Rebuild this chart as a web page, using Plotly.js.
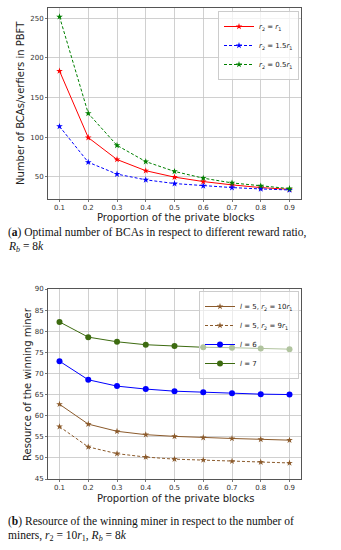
<!DOCTYPE html>
<html>
<head>
<meta charset="utf-8">
<script src="https://cdn.plot.ly/plotly-3.0.1.min.js"></script>
<style>html,body{margin:0;padding:0;background:#fff;}#chart{width:341px;height:550px;}</style>
</head>
<body>
<div id="chart"></div>
<script>
// Data
const proportions = [0.1, 0.2, 0.3, 0.4, 0.5, 0.6, 0.7, 0.8, 0.9];
// (a) Number of BCAs/verifiers
const bcaR1 = [183.5, 99.5, 71.8, 57.7, 49.6, 44.0, 39.8, 36.4, 34.2];
const bca15R1 = [113.6, 68.4, 53.4, 46.2, 41.5, 38.5, 36.4, 34.7, 33.4];
const bca05R1 = [252.0, 130.0, 89.7, 69.2, 56.8, 48.3, 42.3, 38.5, 35.1];
// (b) Resource of the winning miner
const resL5r10 = [62.7, 58.0, 56.3, 55.5, 55.1, 54.8, 54.6, 54.4, 54.2];
const resL5r9 = [57.4, 52.6, 51.0, 50.2, 49.7, 49.5, 49.2, 49.0, 48.8];
const resL6 = [72.9, 68.5, 67.0, 66.3, 65.8, 65.55, 65.3, 65.1, 65.0];
const resL7 = [82.2, 78.6, 77.5, 76.8, 76.5, 76.2, 76.1, 75.9, 75.75];
const xTicks = [0.1, 0.2, 0.3, 0.4, 0.5, 0.6, 0.7, 0.8, 0.9];
const yTicksA = [50, 100, 150, 200, 250];
const yTicksB = [45, 50, 55, 60, 65, 70, 75, 80, 85, 90];

const W = 341, H = 550;
const px = v => v / W;
const py = v => 1 - v / H;

const traces = [
  {x: proportions, y: bcaR1, name: '<i>r</i><sub>2</sub> = <i>r</i><sub>1</sub>', xaxis: 'x', yaxis: 'y', legend: 'legend',
   mode: 'lines+markers', line: {color: '#ff0000', width: 1}, marker: {symbol: 'star', size: 5, color: '#ff0000'}},
  {x: proportions, y: bca15R1, name: '<i>r</i><sub>2</sub> = 1.5<i>r</i><sub>1</sub>', xaxis: 'x', yaxis: 'y', legend: 'legend',
   mode: 'lines+markers', line: {color: '#0000ff', width: 1, dash: '3px,2px'}, marker: {symbol: 'star', size: 5, color: '#0000ff'}},
  {x: proportions, y: bca05R1, name: '<i>r</i><sub>2</sub> = 0.5<i>r</i><sub>1</sub>', xaxis: 'x', yaxis: 'y', legend: 'legend',
   mode: 'lines+markers', line: {color: '#008000', width: 1, dash: '3px,2px'}, marker: {symbol: 'star', size: 5, color: '#008000'}},
  {x: proportions, y: resL5r10, name: '<i>l</i> = 5, <i>r</i><sub>2</sub> = 10<i>r</i><sub>1</sub>', xaxis: 'x2', yaxis: 'y2', legend: 'legend2',
   mode: 'lines+markers', line: {color: '#8b5a2b', width: 1}, marker: {symbol: 'star', size: 5, color: '#8b5a2b'}},
  {x: proportions, y: resL5r9, name: '<i>l</i> = 5, <i>r</i><sub>2</sub> = 9<i>r</i><sub>1</sub>', xaxis: 'x2', yaxis: 'y2', legend: 'legend2',
   mode: 'lines+markers', line: {color: '#8b5a2b', width: 1, dash: '3px,2px'}, marker: {symbol: 'star', size: 5, color: '#8b5a2b'}},
  {x: proportions, y: resL6, name: '<i>l</i> = 6', xaxis: 'x2', yaxis: 'y2', legend: 'legend2',
   mode: 'lines+markers', line: {color: '#0000ff', width: 1}, marker: {symbol: 'circle', size: 6, color: '#0000ff'}},
  {x: proportions, y: resL7, name: '<i>l</i> = 7', xaxis: 'x2', yaxis: 'y2', legend: 'legend2',
   mode: 'lines+markers', line: {color: '#3d6b10', width: 1}, marker: {symbol: 'circle', size: 6, color: '#3d6b10'}}
];

const tickFont = {family: 'DejaVu Sans', size: 7, color: '#333'};
const axBase = {
  showline: true, mirror: true, linecolor: '#555', linewidth: 1,
  ticks: 'outside', ticklen: 2, tickcolor: '#555', tickwidth: 0.8,
  showgrid: true, gridcolor: '#c4c4c4', gridwidth: 0.8, zeroline: false,
  tickfont: tickFont
};
const xAx = Object.assign({}, axBase, {range: [0.06, 0.94], tickmode: 'array', tickvals: xTicks, ticktext: xTicks.map(v => v.toFixed(1)), domain: [px(48), px(301)]});

const legFont = {family: 'DejaVu Sans', size: 7, color: '#222'};
const capFont = {family: 'Liberation Serif', size: 11.5, color: '#111'};
const layout = {
  width: W, height: H,
  margin: {l: 0, r: 0, t: 0, b: 0},
  paper_bgcolor: '#fff', plot_bgcolor: '#fff',
  showlegend: true,
  font: {family: 'DejaVu Sans', color: '#222'},
  xaxis: Object.assign({}, xAx, {anchor: 'y'}),
  yaxis: Object.assign({}, axBase, {anchor: 'x', range: [22, 263], tickmode: 'array', tickvals: yTicksA, domain: [py(199), py(8)]}),
  xaxis2: Object.assign({}, xAx, {anchor: 'y2'}),
  yaxis2: Object.assign({}, axBase, {anchor: 'x2', range: [45, 90], tickmode: 'array', tickvals: yTicksB, domain: [py(479), py(289)]}),
  legend: {x: px(299), y: py(11), xanchor: 'right', yanchor: 'top', bgcolor: 'rgba(255,255,255,0.75)', bordercolor: '#ccc', borderwidth: 1,
           font: legFont, itemwidth: 30, tracegroupgap: 0},
  legend2: {x: px(299), y: py(291), xanchor: 'right', yanchor: 'top', bgcolor: 'rgba(255,255,255,0.6)', bordercolor: '#ccc', borderwidth: 1,
           font: legFont, itemwidth: 30, tracegroupgap: 0},
  annotations: [
    {text: 'Number of BCAs/verfiers in PBFT', textangle: -90, x: px(21), y: py(103), xref: 'paper', yref: 'paper', showarrow: false, xanchor: 'center', yanchor: 'middle', font: {family: 'DejaVu Sans', size: 10, color: '#222'}},
    {text: 'Proportion of the private blocks', x: px(175), y: py(217), xref: 'paper', yref: 'paper', showarrow: false, xanchor: 'center', yanchor: 'middle', font: {family: 'DejaVu Sans', size: 10, color: '#222'}},
    {text: 'Resource of the winning miner', textangle: -90, x: px(27), y: py(384), xref: 'paper', yref: 'paper', showarrow: false, xanchor: 'center', yanchor: 'middle', font: {family: 'DejaVu Sans', size: 10, color: '#222'}},
    {text: 'Proportion of the private blocks', x: px(175), y: py(498.5), xref: 'paper', yref: 'paper', showarrow: false, xanchor: 'center', yanchor: 'middle', font: {family: 'DejaVu Sans', size: 10, color: '#222'}},
    {text: '(<b>a</b>) Optimal number of BCAs in respect to different reward ratio,', x: px(6), y: py(232.5), xref: 'paper', yref: 'paper', showarrow: false, xanchor: 'left', yanchor: 'middle', font: capFont},
    {text: '<i>R<sub>b</sub></i> = 8<i>k</i>', x: px(6), y: py(247), xref: 'paper', yref: 'paper', showarrow: false, xanchor: 'left', yanchor: 'middle', font: capFont},
    {text: '(<b>b</b>) Resource of the winning miner in respect to the number of', x: px(6), y: py(521.5), xref: 'paper', yref: 'paper', showarrow: false, xanchor: 'left', yanchor: 'middle', font: capFont},
    {text: 'miners, <i>r</i><sub>2</sub> = 10<i>r</i><sub>1</sub>, <i>R<sub>b</sub></i> = 8<i>k</i>', x: px(6), y: py(536), xref: 'paper', yref: 'paper', showarrow: false, xanchor: 'left', yanchor: 'middle', font: capFont}
  ]
};

Plotly.newPlot('chart', traces, layout, {displayModeBar: false, staticPlot: true});
</script>
</body>
</html>
